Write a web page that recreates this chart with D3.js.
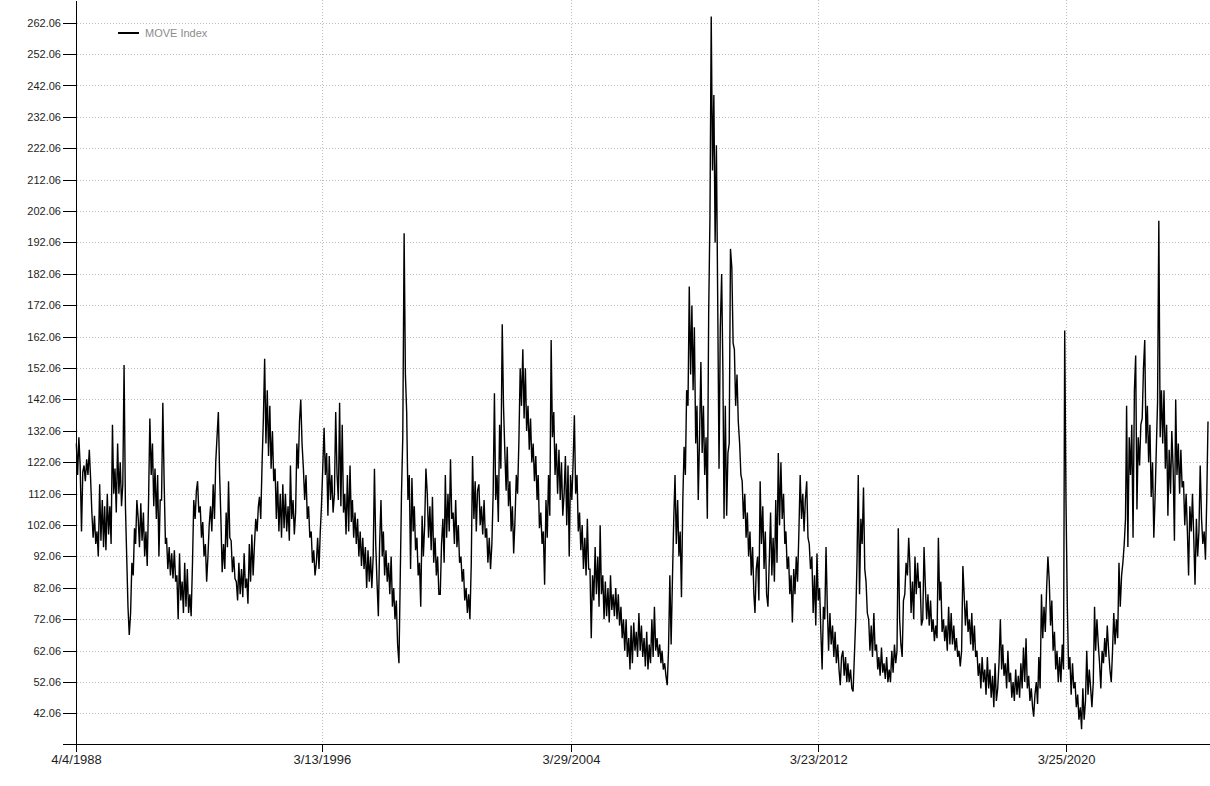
<!DOCTYPE html>
<html>
<head>
<meta charset="utf-8">
<script src="https://cdn.jsdelivr.net/npm/d3@7"></script>
<style>
html, body { margin: 0; padding: 0; background: #ffffff; }
svg { display: block; }
</style>
</head>
<body>
<svg id="chart" width="1210" height="786"></svg>
<script>
// ---------------- DATA ----------------
const seriesName = "MOVE Index";

const yTickValues = [42.06, 52.06, 62.06, 72.06, 82.06, 92.06, 102.06, 112.06, 122.06, 132.06,
  142.06, 152.06, 162.06, 172.06, 182.06, 192.06, 202.06, 212.06, 222.06, 232.06,
  242.06, 252.06, 262.06];

const xTickDates = ["1988-04-04", "1996-03-13", "2004-03-29", "2012-03-23", "2020-03-25"];
const xTickLabels = ["4/4/1988", "3/13/1996", "3/29/2004", "3/23/2012", "3/25/2020"];

// Half-monthly readings (two per month)
const move1988 = [128,118, 130,121, 100,119, 121,116, 123,118, 126,117, 106,98, 105,96, 100,92]; // from April
const move1989 = [115,97, 110,95, 108,94, 112,99, 108,96, 134,112, 120,106, 128,112, 122,108, 115,153, 108,92, 76,67];
const move1990 = [74,90, 86,101, 96,110, 104,95, 109,97, 106,92, 100,89, 110,136, 118,128, 108,120, 104,118, 92,110];
const move1991 = [110,141, 115,96, 98,88, 95,86, 93,85, 94,84, 86,72, 93,78, 84,74, 90,76, 88,74, 80,73];
const move1992 = [90,110, 104,113, 116,106, 108,98, 103,92, 96,84, 92,102, 108,100, 115,104, 122,130, 138,118, 104,87];
const move1993 = [96,88, 106,95, 116,98, 97,87, 92,85, 84,78, 90,80, 88,79, 93,82, 85,77, 96,84, 99,86];
const move1994 = [96,104, 100,108, 111,104, 122,136, 155,128, 145,124, 140,120, 132,116, 120,104, 116,100, 112,98, 115,101];
const move1995 = [112,100, 108,97, 121,104, 110,99, 106,128, 120,135, 142,128, 120,110, 118,104, 108,98, 100,90, 94,86];
const move1996 = [90,98, 88,100, 108,120, 133,118, 125,105, 124,110, 118,106, 112,138, 118,110, 141,108, 134,106, 112,99];
const move1997 = [118,100, 121,103, 110,98, 106,96, 104,92, 100,89, 98,88, 95,82, 94,84, 92,82, 92,120, 96,84];
const move1998 = [73,96, 110,92, 100,86, 94,84, 90,80, 92,76, 82,72, 78,64, 58,85, 112,130, 195,150, 138,110];
const move1999 = [118,88, 117,100, 108,94, 98,86, 90,76, 105,92, 102,120, 112,98, 108,94, 111,90, 98,86, 92,80];
const move2000 = [80,96, 104,90, 118,98, 112,100, 123,104, 106,96, 110,95, 102,90, 92,84, 88,78, 82,74, 80,72];
const move2001 = [90,124, 104,116, 100,113, 115,102, 108,99, 110,98, 101,90, 98,88, 96,112, 144,110, 118,103, 134,120];
const move2002 = [166,140, 125,113, 127,108, 116,100, 108,93, 104,118, 112,128, 152,140, 158,136, 152,132, 140,126, 136,122];
const move2003 = [128,116, 124,110, 118,101, 106,96, 100,83, 110,98, 118,105, 161,130, 138,118, 128,112, 126,110, 122,105];
const move2004 = [112,124, 102,121, 92,118, 110,122, 137,112, 118,100, 106,94, 102,88, 98,86, 104,88, 88,66, 86,78];
const move2005 = [95,80, 92,76, 102,80, 86,72, 84,73, 82,71, 86,75, 80,73, 82,72, 80,70, 76,66, 72,62];
const move2006 = [72,60, 66,56, 70,58, 71,62, 68,60, 74,62, 70,60, 66,57, 68,56, 64,58, 72,60, 76,62];
const move2007 = [66,60, 64,58, 62,56, 58,54, 51,62, 86,64, 84,103, 118,96, 110,92, 100,79, 110,127, 118,145];
const move2008 = [140,178, 150,172, 145,165, 128,140, 110,130, 154,125, 140,118, 130,104, 170,200, 264,215, 239,192, 223,175];
const move2009 = [120,165, 182,150, 104,140, 105,125, 128,190, 184,160, 158,140, 150,135, 128,118, 116,104, 112,98, 106,92];
const move2010 = [100,86, 95,80, 74,88, 92,78, 116,96, 108,88, 100,80, 76,90, 106,86, 98,84, 110,90, 125,102];
const move2011 = [122,104, 112,96, 100,88, 92,80, 86,71, 88,80, 92,84, 100,118, 104,112, 100,110, 116,98, 96,88];
const move2012 = [92,74, 86,70, 93,78, 82,68, 56,76, 72,95, 76,62, 74,64, 70,60, 68,58, 64,56, 51,60];
const move2013 = [62,54, 60,52, 58,52, 56,50, 49,60, 72,90, 118,80, 104,96, 114,88, 84,74, 72,62, 70,60];
const move2014 = [74,62, 64,56, 60,54, 63,55, 58,53, 60,52, 56,52, 62,55, 64,58, 62,101, 72,64, 60,78];
const move2015 = [80,90, 86,98, 90,74, 84,72, 92,80, 90,82, 84,70, 72,95, 82,72, 80,70, 78,68, 72,65];
const move2016 = [70,66, 98,78, 84,68, 72,65, 70,62, 76,64, 74,64, 70,62, 66,60, 62,57, 62,89, 80,70];
const move2017 = [78,68, 72,64, 74,62, 70,60, 62,54, 58,50, 60,52, 56,48, 60,50, 56,47, 54,44, 58,46];
const move2018 = [50,58, 72,56, 64,54, 58,50, 62,52, 55,47, 52,46, 56,48, 54,47, 58,50, 63,52, 66,50];
const move2019 = [54,46, 50,44, 41,48, 52,45, 60,50, 80,66, 76,68, 82,92, 84,70, 78,62, 68,56, 62,52];
const move2020 = [60,52, 64,56, 164,110, 76,56, 60,48, 58,50, 52,44, 48,40, 44,37, 50,40, 46,62, 48,56];
const move2021 = [50,44, 52,76, 62,72, 64,58, 50,62, 58,66, 60,70, 62,56, 52,62, 74,64, 72,66, 90,76];
const move2022 = [86,90, 96,104, 140,95, 130,118, 134,98, 145,156, 107,130, 121,134, 136,152, 161,128, 140,122, 134,111];
const move2023 = [122,98, 112,128, 141,199, 130,145, 128,145, 120,134, 105,126, 112,132, 120,97, 142,118, 128,112, 126,114];
const move2024 = [116,102, 112,100, 86,108, 100,112, 98,83, 104,92, 100,121, 104,96, 100,91, 110,135]; // to October

// [year, first month (0 = Jan), values]
const yearBlocks = [
  [1988, 3, move1988], [1989, 0, move1989], [1990, 0, move1990], [1991, 0, move1991],
  [1992, 0, move1992], [1993, 0, move1993], [1994, 0, move1994], [1995, 0, move1995],
  [1996, 0, move1996], [1997, 0, move1997], [1998, 0, move1998], [1999, 0, move1999],
  [2000, 0, move2000], [2001, 0, move2001], [2002, 0, move2002], [2003, 0, move2003],
  [2004, 0, move2004], [2005, 0, move2005], [2006, 0, move2006], [2007, 0, move2007],
  [2008, 0, move2008], [2009, 0, move2009], [2010, 0, move2010], [2011, 0, move2011],
  [2012, 0, move2012], [2013, 0, move2013], [2014, 0, move2014], [2015, 0, move2015],
  [2016, 0, move2016], [2017, 0, move2017], [2018, 0, move2018], [2019, 0, move2019],
  [2020, 0, move2020], [2021, 0, move2021], [2022, 0, move2022], [2023, 0, move2023],
  [2024, 0, move2024]
];

// ---------------- BUILD SERIES ----------------
const data = [];
yearBlocks.forEach(([yr, m0, vals]) => {
  vals.forEach((v, j) => {
    const half = j + m0 * 2;
    const month = Math.floor(half / 2);
    const day = half % 2 === 0 ? 8 : 23;
    data.push({ date: new Date(yr, month, day), value: v });
  });
});

const parseDate = d3.timeParse("%Y-%m-%d");
const xTicks = xTickDates.map(parseDate);

// ---------------- SCALES ----------------
const W = 1210, H = 786;
const left = 76, right = 1208, axisY = 744;

const x = d3.scaleTime()
  .domain([parseDate("1988-04-04"), data[data.length - 1].date])
  .range([left, right]);

const y = d3.scaleLinear()
  .domain([32.28, 269.29])
  .range([axisY, 0]);

const svg = d3.select("#chart");

// ---------------- GRID ----------------
const grid = svg.append("g").attr("class", "grid");
grid.selectAll("line.h")
  .data(yTickValues)
  .join("line")
  .attr("class", "h")
  .attr("x1", left + 1)
  .attr("x2", W)
  .attr("y1", d => Math.round(y(d)) + 0.5)
  .attr("y2", d => Math.round(y(d)) + 0.5)
  .attr("stroke", "#bdbdbd")
  .attr("stroke-width", 1)
  .attr("stroke-dasharray", "1,2");

grid.selectAll("line.v")
  .data(xTicks.slice(1))
  .join("line")
  .attr("class", "v")
  .attr("x1", d => Math.round(x(d)) + 0.5)
  .attr("x2", d => Math.round(x(d)) + 0.5)
  .attr("y1", 0)
  .attr("y2", axisY)
  .attr("stroke", "#bdbdbd")
  .attr("stroke-width", 1)
  .attr("stroke-dasharray", "1,2");

// ---------------- LINE ----------------
const line = d3.line()
  .x(d => x(d.date))
  .y(d => y(d.value));

svg.append("path")
  .datum(data)
  .attr("fill", "none")
  .attr("stroke", "#000")
  .attr("stroke-width", 1.4)
  .attr("stroke-linejoin", "miter")
  .attr("d", line);

// ---------------- AXES ----------------
const yAxis = d3.axisLeft(y)
  .tickValues(yTickValues)
  .tickFormat(d3.format(".2f"))
  .tickSize(13)
  .tickSizeOuter(0)
  .tickPadding(2);

const gy = svg.append("g")
  .attr("transform", `translate(${left},0)`)
  .call(yAxis);
gy.selectAll("text")
  .attr("font-family", "'Liberation Sans', Arial, sans-serif")
  .attr("font-size", 11)
  .attr("fill", "#1e1e1e");
gy.selectAll("line, path").attr("stroke", "#000").attr("shape-rendering", "crispEdges");

const xAxis = d3.axisBottom(x)
  .tickValues(xTicks)
  .tickFormat((d, i) => xTickLabels[i])
  .tickSize(8)
  .tickSizeOuter(0)
  .tickPadding(3);

const gx = svg.append("g")
  .attr("transform", `translate(0,${axisY})`)
  .call(xAxis);
gx.select(".domain").remove();
gx.selectAll("text")
  .attr("font-family", "'Liberation Sans', Arial, sans-serif")
  .attr("font-size", 13)
  .attr("fill", "#1e1e1e");
gx.selectAll("line").attr("stroke", "#000").attr("shape-rendering", "crispEdges");

svg.append("line")
  .attr("x1", 63).attr("x2", W)
  .attr("y1", axisY + 0.5).attr("y2", axisY + 0.5)
  .attr("stroke", "#000")
  .attr("shape-rendering", "crispEdges");

// ---------------- LEGEND ----------------
const lg = svg.append("g").attr("class", "legend");
lg.append("line")
  .attr("x1", 118).attr("x2", 139)
  .attr("y1", 33).attr("y2", 33)
  .attr("stroke", "#000")
  .attr("stroke-width", 2);
lg.append("text")
  .attr("x", 145).attr("y", 37)
  .attr("font-family", "'Liberation Sans', Arial, sans-serif")
  .attr("font-size", 11)
  .attr("fill", "#8c8c8c")
  .text(seriesName);
</script>
</body>
</html>
